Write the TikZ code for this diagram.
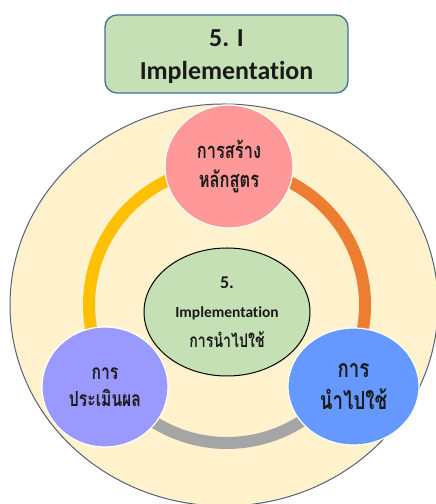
\documentclass[tikz,border=0pt]{standalone}
\usepackage{fontspec}
\usetikzlibrary{shapes.geometric}
\newfontfamily\thaifont[Script=Thai,FakeStretch=0.75]{Loma}
\newfontfamily\latinfont[Ligatures=NoCommon]{Carlito}
\definecolor{cream}{HTML}{FFF2CC}
\definecolor{ringline}{HTML}{56607A}
\definecolor{boxgreen}{HTML}{C5E0B4}
\definecolor{boxline}{HTML}{41719C}
\definecolor{pinkc}{HTML}{FF9999}
\definecolor{purplec}{HTML}{9999FF}
\definecolor{bluec}{HTML}{6699FF}
\definecolor{yellowarc}{HTML}{FFC000}
\definecolor{orangearc}{HTML}{ED7D31}
\definecolor{grayarc}{HTML}{A5A5A5}
\definecolor{txt}{HTML}{1A1A1A}
\tikzset{
  arcseg/.style={line width=12bp},
  bubble/.style={ellipse, draw=white, line width=1.2bp, inner sep=0pt, align=center, text=txt},
  titlebox/.style={rectangle, rounded corners=12bp, draw=boxline, line width=1.3bp, fill=boxgreen,
     minimum width=243bp, minimum height=78bp},
  titletext/.style={align=center, text=txt, inner sep=0pt,
     font=\latinfont\bfseries\fontsize{26}{33}\selectfont},
}
\begin{document}
\begin{tikzpicture}[x=1bp,y=1bp]
\useasboundingbox (0,0) rectangle (436,504);
\fill[white] (0,0) rectangle (436,504);
% outer circle
\draw[fill=cream, draw=ringline, line width=1bp] (224,199) ellipse [x radius=214bp, y radius=201bp];
% ring
\coordinate (ringc) at (227,199);
\draw[arcseg, yellowarc] (ringc) ++(90:138bp) arc[start angle=90, end angle=214, radius=138bp];
\draw[arcseg, grayarc] (ringc) ++(214:138bp) arc[start angle=214, end angle=326, radius=138bp];
\draw[arcseg, orangearc] (ringc) ++(-34:138bp) arc[start angle=-34, end angle=90, radius=138bp];
% title box
\node[titlebox] (title) at (226.5,450) {};
\node[titletext] (titlelbl) at ([yshift=-3bp]title.center) {5. I\\Implementation};
% center
\node[ellipse, draw=black, line width=1bp, fill=boxgreen, minimum width=166bp, minimum height=128bp,
      inner sep=0pt, align=center, text=txt, font=\fontsize{16}{29.5}\selectfont] (center) at (227,192)
  {{\latinfont\bfseries\fontsize{18}{29.5}\selectfont 5.}\\
   {\latinfont\bfseries\fontsize{15.5}{29.5}\selectfont Implementation}\\
   {\thaifont\bfseries\fontsize{19}{29.5}\selectfont การนำไปใช้}};
% bubbles
\node[bubble, fill=pinkc, minimum width=128bp, minimum height=123bp,
      font=\thaifont\bfseries\fontsize{22}{30}\selectfont] (create) at (229,337.5)
  {การสร้าง\\หลักสูตร};
\node[bubble, fill=purplec, minimum width=126bp, minimum height=120bp,
      font=\thaifont\bfseries\fontsize{21}{27}\selectfont] (eval) at (105,117)
  {การ\\ประเมินผล};
\node[bubble, fill=bluec, minimum width=131bp, minimum height=117bp,
      font=\thaifont\bfseries\fontsize{25}{32}\selectfont] (apply) at (353.5,117.5)
  {การ\\นำไปใช้};
\end{tikzpicture}
\end{document}
